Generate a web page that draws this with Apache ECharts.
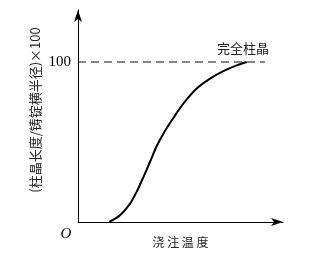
<!DOCTYPE html>
<html><head><meta charset="utf-8">
<script src="https://cdn.jsdelivr.net/npm/echarts@6/dist/echarts.min.js"></script>
<style>html,body{margin:0;padding:0;background:#fff}#c{width:313px;height:254px}</style>
</head><body><div id="c"></div>
<script>
// Pouring temperature (relative units 0-100) vs columnar ratio ×100
const curveX = [15.3, 20.5, 25.4, 28.6, 31.9, 35.1, 38.4, 42.0, 46.5, 51.4, 57.9, 64.4, 70.9, 77.4, 82.3];
const curveY = [0, 4.2, 11.5, 18.8, 28.1, 37.5, 47.5, 56.0, 65.0, 74.0, 83.4, 89.6, 94.3, 97.9, 100];
const refLineX = [0, 91.2];
const refLineY = [100, 100];
const yTicks = [100];
const xAxisName = '浇 注 温 度';
const yAxisName = '(柱晶长度/铸锭横半径)×100';
const refLabel = '完全柱晶';
const originLabel = 'O';

const chart = echarts.init(document.getElementById('c'));
chart.setOption({
  animation: false,
  backgroundColor: '#fff',
  grid: { left: 78, right: 30, top: 10, bottom: 32, outerBoundsMode: 'none', containLabel: false },
  xAxis: {
    type: 'value', min: 0, max: 100,
    name: xAxisName, nameLocation: 'middle', nameGap: 14,
    nameTextStyle: { fontFamily: 'Noto Sans CJK SC', fontSize: 12, color: '#222' },
    axisLine: { lineStyle: { color: '#000', width: 1 }, symbol: ['none', 'arrow'], symbolSize: [6, 12] },
    axisTick: { show: false }, axisLabel: { show: false }, splitLine: { show: false }
  },
  yAxis: {
    type: 'value', min: 0, max: 132.5, interval: 100,
    axisLine: { show: true, onZero: false, lineStyle: { color: '#000', width: 1 }, symbol: ['none', 'arrow'], symbolSize: [6, 12] },
    axisTick: { show: false }, splitLine: { show: false },
    axisLabel: {
      margin: 7, fontFamily: 'Liberation Serif', fontSize: 15, color: '#000',
      formatter: v => yTicks.includes(v) ? String(v) : ''
    }
  },
  graphic: [
    { type: 'text', x: 35, y: 110, rotation: Math.PI / 2,
      style: { text: yAxisName, font: '13px "Noto Sans CJK SC"', fill: '#222', align: 'center', verticalAlign: 'middle' } },
    { type: 'text', x: 243, y: 48,
      style: { text: refLabel, font: '13px "Noto Sans CJK SC"', fill: '#222', align: 'center', verticalAlign: 'middle' } },
    { type: 'text', x: 66, y: 234,
      style: { text: originLabel, font: 'italic 15px "Liberation Serif"', fill: '#000', align: 'center', verticalAlign: 'middle' } }
  ],
  series: [
    { type: 'line', data: refLineX.map((x, i) => [x, refLineY[i]]), symbol: 'none',
      lineStyle: { color: '#111', width: 1, type: [8, 5] } },
    { type: 'line', data: curveX.map((x, i) => [x, curveY[i]]), symbol: 'none', smooth: 0.3,
      lineStyle: { color: '#000', width: 2 } }
  ]
});
</script></body></html>
